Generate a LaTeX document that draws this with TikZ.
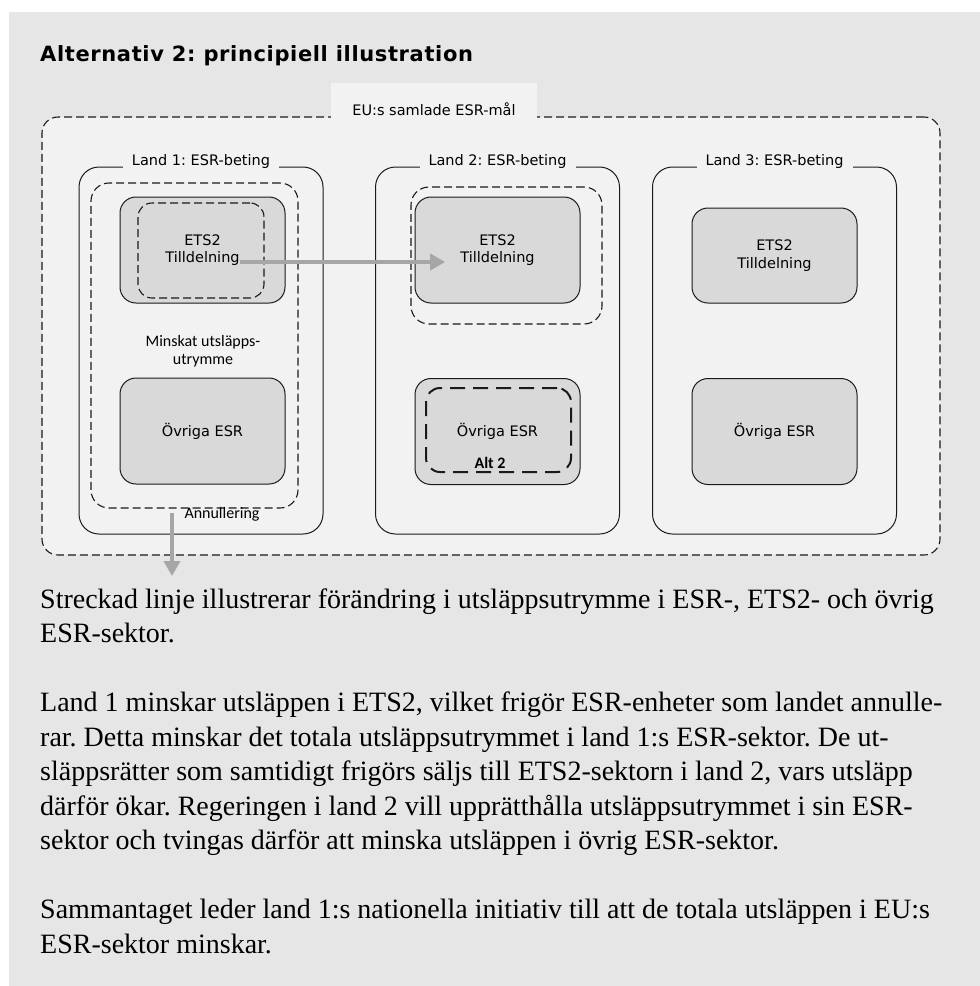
\documentclass[tikz,border=0pt]{standalone}
\usepackage{fontspec}
\setmainfont{Liberation Serif}
\newfontfamily\verdfont{DejaVu Sans}
\newfontfamily\calfont{Carlito}
\newfontfamily\titlefont{DejaVu Sans}[LetterSpace=3]
\usetikzlibrary{arrows.meta, positioning}
\definecolor{panel}{HTML}{E6E6E6}
\definecolor{inner}{HTML}{F2F2F2}
\definecolor{sect}{HTML}{D9D9D9}
\definecolor{flowgray}{HTML}{A6A6A6}
\definecolor{ink}{HTML}{1A1A1A}
\frenchspacing

\begin{document}
\begin{tikzpicture}[
  x=1pt, y=-1pt,
  font=\verdfont\fontsize{14.5}{17.5}\selectfont,
  >={Triangle[length=15pt, width=16pt]},
  land/.style={draw=ink, line width=1pt, fill=inner, rounded corners=20pt,
               minimum width=244pt, minimum height=367pt, inner sep=0pt},
  landlab/.style={fill=inner, inner xsep=9pt, inner ysep=2pt, anchor=base},
  sector/.style={draw=ink, line width=1pt, fill=sect, rounded corners=16pt,
                 minimum width=165pt, minimum height=#1, align=center, inner sep=0pt},
  sector/.default=106pt,
  change/.style={draw=ink, line width=1.1pt, dash pattern=on 8pt off 4pt,
                 rounded corners=#1, inner sep=0pt},
  change/.default=16pt,
  txt/.style={align=center, inner sep=0pt},
  note/.style={txt, font=\calfont\fontsize{16}{18}\selectfont},
  move/.style={->, draw=flowgray, line width=4pt},
  body/.style={font=\fontsize{28}{34.5}\selectfont, align=left,
               anchor=base west, inner sep=0pt},
]
\useasboundingbox (0,0) rectangle (980,986);

% ---------- Panel and title ----------
\fill[panel] (9,12) rectangle (980,986);
\node[anchor=base west, inner sep=0pt, font=\titlefont\bfseries\fontsize{21}{25}\selectfont]
  (title) at (40,61.7) {Alternativ 2: principiell illustration};

% ---------- EU frame ----------
\node[change, fill=inner, minimum width=898pt, minimum height=438pt] (eu) at (491,336) {};
\node[fill=inner, minimum width=206pt, minimum height=36pt, inner sep=0pt] (eutab) at (434,101) {};
\node[anchor=base, inner sep=0pt] (eulab) at (434,115.5) {EU:s samlade ESR-mål};

% ---------- Countries ----------
\node[land] (land1) at (201,350.5) {};
\node[land] (land2) at (497.5,350.5) {};
\node[land] (land3) at (774.5,350.5) {};
\foreach \i in {1,2,3}
  \node[landlab] (lab\i) at ([yshift=1pt]land\i.north) {Land \i: ESR-beting};

% land 1: ETS2 cut, units cancelled
\node[change=18pt, minimum width=207pt, minimum height=325pt] (red1) at (194.5,345.5) {};
\node[sector] (ets1) at (202.5,250) {};
\node[change=14pt, minimum width=126pt, minimum height=95pt] (cut1) at (201,250.5) {};
\node[txt] (t1) at (ets1) {ETS2\\Tilldelning};
\node[note] (less) at (203,351) {Minskat utsläpps-\\utrymme};
\node[sector] (ovr1) at (202.5,431) {Övriga ESR};
\node[note] (annul) at (222,514) {Annullering};

% land 2: buys ETS2 units, cuts the rest
\node[change=18pt, minimum width=191pt, minimum height=137pt] (red2) at (506.5,255.5) {};
\node[sector] (ets2) at (497.5,250) {};
\node[txt] (t2) at (ets2) {ETS2\\Tilldelning};
\node[sector] (ovr2) at (497.5,431.5) {Övriga ESR};
\node[change=14pt, line width=2pt, dash pattern=on 15pt off 8pt,
      minimum width=145pt, minimum height=84pt] (alt) at (498.5,430) {};
\node[anchor=base, inner sep=0pt, font=\calfont\bfseries\fontsize{16}{18}\selectfont]
  (altlab) at (490,468) {Alt 2};

% land 3: unchanged
\node[sector=95pt] (ets3) at (774.5,255.5) {ETS2\\Tilldelning};
\node[sector] (ovr3) at (774.5,431.5) {Övriga ESR};

% ---------- Flows ----------
\draw[move, shorten >=15pt] ([yshift=-12pt]t1.east) -- ([yshift=-12pt]t1.east -| t2.west);
\coordinate (sink) at (172,576);
\draw[move, shorten <=4pt] (red1.south -| sink) -- (sink);

% ---------- Text ----------
\node[body] (p1) at (40,642.5)
  {Streckad linje illustrerar förändring i utsläppsutrymme i ESR-, ETS2- och övrig\\
   ESR-sektor.};
\node[body] (p2) at (40,849.5)
  {Land 1 minskar utsläppen i ETS2, vilket frigör ESR-enheter som landet annulle-\\
   rar. Detta minskar det totala utsläppsutrymmet i land 1:s ESR-sektor. De ut-\\
   släppsrätter som samtidigt frigörs säljs till ETS2-sektorn i land 2, vars utsläpp\\
   därför ökar. Regeringen i land 2 vill upprätthålla utsläppsutrymmet i sin ESR-\\
   sektor och tvingas därför att minska utsläppen i övrig ESR-sektor.};
\node[body] (p3) at (40,953)
  {Sammantaget leder land 1:s nationella initiativ till att de totala utsläppen i EU:s\\
   ESR-sektor minskar.};

\end{tikzpicture}
\end{document}
